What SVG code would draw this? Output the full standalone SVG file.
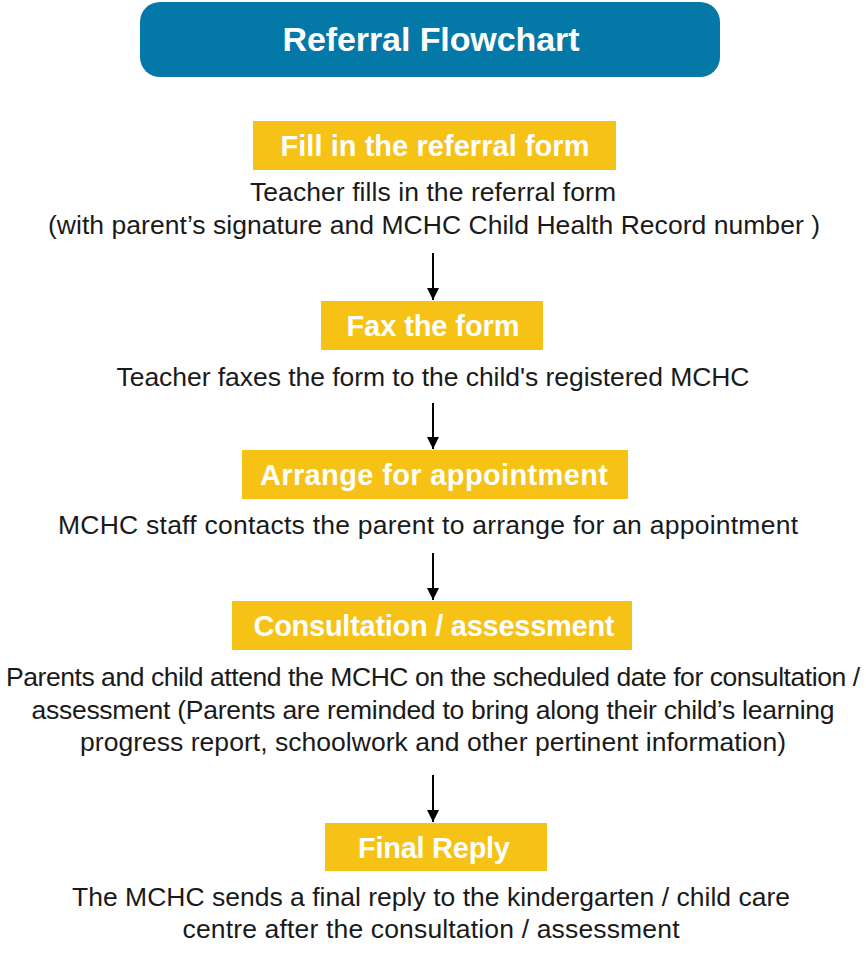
<svg xmlns="http://www.w3.org/2000/svg" width="866" height="955" viewBox="0 0 866 955">
<defs>
<style>
.hd{fill:#f6c216}
.ht{font-family:"Liberation Sans",Arial,sans-serif;font-weight:bold;font-size:29px;fill:#fff;text-anchor:middle}
.bt{font-family:"Liberation Sans",Arial,sans-serif;font-size:26.5px;fill:#1a1a1a;text-anchor:middle}
.ar{stroke:#000;stroke-width:2;fill:none;marker-end:url(#ah)}
</style>
<marker id="ah" viewBox="0 0 10 10" refX="10" refY="5" markerWidth="6" markerHeight="6" markerUnits="strokeWidth" orient="auto">
<path d="M0,0 L10,5 L0,10 z" fill="#000"/>
</marker>
</defs>
<rect width="866" height="955" fill="#fff"/>
<g id="title">
<rect x="140" y="2" width="580" height="75" rx="20" fill="#0478a6"/>
<text x="431" y="51" font-family="'Liberation Sans',Arial,sans-serif" font-weight="bold" font-size="34" fill="#fff" text-anchor="middle" textLength="297">Referral Flowchart</text>
</g>
<g id="step1">
<rect class="hd" x="253" y="121" width="363" height="49"/>
<text class="ht" x="435" y="156" textLength="309">Fill in the referral form</text>
<text class="bt" x="433" y="201" textLength="366">Teacher fills in the referral form</text>
<text class="bt" x="434" y="234" textLength="772">(with parent’s signature and MCHC Child Health Record number )</text>
</g>
<g id="step2">
<rect class="hd" x="321" y="301" width="222" height="49"/>
<text class="ht" x="433" y="336" textLength="173">Fax the form</text>
<text class="bt" x="433" y="386" textLength="633">Teacher faxes the form to the child's registered MCHC</text>
</g>
<g id="step3">
<rect class="hd" x="242" y="450" width="386" height="49"/>
<text class="ht" x="434" y="485" textLength="348">Arrange for appointment</text>
<text class="bt" x="428" y="534" textLength="740">MCHC staff contacts the parent to arrange for an appointment</text>
</g>
<g id="step4">
<rect class="hd" x="232" y="601" width="400" height="49"/>
<text class="ht" x="434" y="636" textLength="361">Consultation / assessment</text>
<text class="bt" x="433" y="686" textLength="854">Parents and child attend the MCHC on the scheduled date for consultation /</text>
<text class="bt" x="433" y="719" textLength="803">assessment (Parents are reminded to bring along their child’s learning</text>
<text class="bt" x="433" y="751" textLength="706">progress report, schoolwork and other pertinent information)</text>
</g>
<g id="step5">
<rect class="hd" x="325" y="823" width="222" height="48"/>
<text class="ht" x="434" y="858" textLength="152">Final Reply</text>
<text class="bt" x="431" y="906" textLength="718">The MCHC sends a final reply to the kindergarten / child care</text>
<text class="bt" x="431" y="938" textLength="497">centre after the consultation / assessment</text>
</g>
<g id="connectors">
<line class="ar" x1="433" y1="253" x2="433" y2="300"/>
<line class="ar" x1="433" y1="403" x2="433" y2="449"/>
<line class="ar" x1="433" y1="553" x2="433" y2="600"/>
<line class="ar" x1="433" y1="775" x2="433" y2="822"/>
</g>
</svg>
